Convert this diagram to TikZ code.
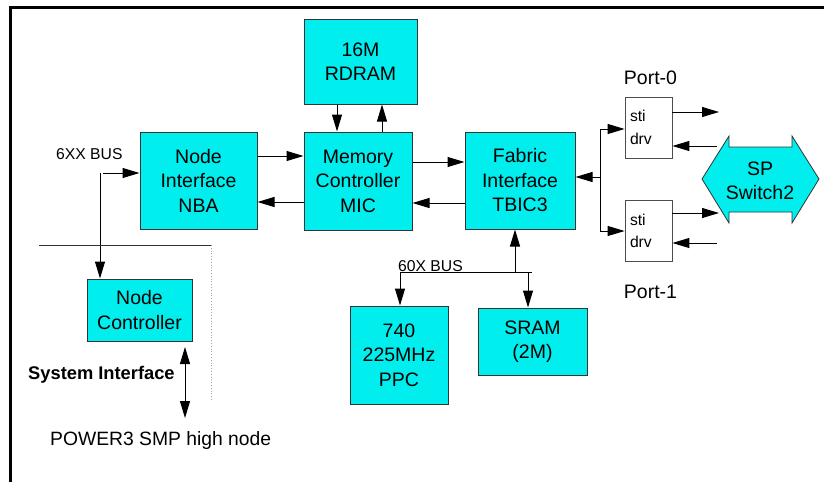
\documentclass[tikz,border=0pt]{standalone}
\usepackage{fontspec}
\setmainfont{Liberation Sans}
\usetikzlibrary{positioning, arrows.meta}
\definecolor{chipcyan}{RGB}{0,238,238}

\begin{document}
\begin{tikzpicture}[
    x=1pt, y=-1pt,
    font=\fontsize{19.5}{24.5}\selectfont,
    chip/.style={rectangle, draw=black!80, line width=1pt, fill=chipcyan, align=center, inner sep=2pt},
    drvbox/.style={rectangle, draw=black!70, line width=0.8pt, fill=white, align=left, text width=37pt, inner sep=5pt, minimum height=61pt, font=\fontsize{15.7}{22.5}\selectfont},
    small/.style={font=\fontsize{15.7}{18}\selectfont, inner sep=0pt},
    edge_style/.style={draw=black, line width=1pt, -{Triangle[length=17pt, width=10pt]}},
    both_style/.style={draw=black, line width=1pt, {Triangle[length=17pt, width=10pt]}-{Triangle[length=17pt, width=10pt]}}
]
\useasboundingbox (0,0) rectangle (824,482);

% Frame
\draw[line width=3pt] (10,482) -- (10,7) -- (824,7);

% Chips
\node[chip, minimum width=113pt, minimum height=85pt] (rdram) at (360.5,61.5) {16M\\RDRAM};
\node[chip, minimum width=117pt, minimum height=97pt] (nba) at (198.5,180.5) {Node\\Interface\\NBA};
\node[chip, minimum width=108pt, minimum height=98pt] (mic) at (358,181) {Memory\\Controller\\MIC};
\node[chip, minimum width=110pt, minimum height=97pt] (tbic) at (520,180.5) {Fabric\\Interface\\TBIC3};
\node[chip, minimum width=105pt, minimum height=62pt] (nodectl) at (139.5,310) {Node\\Controller};
\node[chip, minimum width=98pt, minimum height=98pt] (ppc) at (399,355) {740\\225MHz\\PPC};
\node[chip, minimum width=109pt, minimum height=67pt] (sram) at (532.5,341.5) {SRAM\\(2M)};

% Port drivers
\node[drvbox] (sti0) at (648.5,127.5) {sti\\drv};
\node[drvbox] (sti1) at (648.5,231) {sti\\drv};
\node[anchor=base, inner sep=0pt] (port0) at (650.5,84) {Port-0};
\node[anchor=base, inner sep=0pt] (port1) at (650.5,298) {Port-1};

% Switch
\draw[draw=black!80, line width=0.8pt, fill=chipcyan] (702,179) -- (729,136) -- (729,147) -- (792,147) -- (792,136) -- (819,179) -- (792,223) -- (792,212) -- (729,212) -- (729,223) -- cycle;
\node[align=center, inner sep=0pt] (switch) at (760,181) {SP\\Switch2};

% Labels
\node[small, anchor=base west] (bus6lbl) at (56,159) {6XX BUS};
\node[small, anchor=base west] (bus60lbl) at (398,271) {60X BUS};
\node[anchor=base west, inner sep=0pt, font=\fontsize{18.3}{22}\selectfont\bfseries] (syslbl) at (28,379) {System Interface};
\node[anchor=base west, inner sep=0pt, font=\fontsize{19.3}{22}\selectfont] (hinode) at (50,445) {POWER3 SMP high node};

% Bus points
\coordinate (bus6) at (100,173);
\coordinate (b60l) at (400,272);
\coordinate (b60t) at (515,272);
\coordinate (b60s) at (528,272);
\coordinate (b60r) at (532,272);
\coordinate (fork) at (600,177);
\coordinate (f0) at (600,129);
\coordinate (f1) at (600,231);
\coordinate (systop) at (185,347);
\coordinate (sysbot) at (185,418);
\coordinate (o0) at (719,112);
\coordinate (i0) at (717,146);
\coordinate (o1) at (719,213);
\coordinate (i1) at (717,243);

% Connections
\draw[edge_style] (nba.east |- 0,156) -- (mic.west |- 0,156);
\draw[edge_style] (mic.west |- 0,202) -- (nba.east |- 0,202);
\draw[edge_style] (mic.east |- 0,162) -- (tbic.west |- 0,162);
\draw[edge_style] (tbic.west |- 0,203) -- (mic.east |- 0,203);
\draw[edge_style] (rdram.south -| 337,0) -- (mic.north -| 337,0);
\draw[edge_style] (mic.north -| 382,0) -- (rdram.south -| 382,0);

\draw[edge_style] ([xshift=3pt]bus6) -- (bus6 -| nba.west);
\draw[line width=1pt] (bus6) -- (bus6 |- 0,245);
\draw[edge_style] (bus6 |- 0,245) -- (bus6 |- nodectl.north);
\draw[both_style] (systop) -- (sysbot);

\draw[line width=1pt] (b60l) -- (b60r);
\draw[edge_style] (b60l) -- (b60l |- ppc.north);
\draw[edge_style] (b60s) -- (b60s |- sram.north);
\draw[edge_style] (b60t) -- (b60t |- tbic.south);

\draw[edge_style] (fork) -- (fork -| tbic.east);
\draw[line width=1pt] (f0) -- (f1);
\draw[edge_style] (f0) -- (f0 -| sti0.west);
\draw[edge_style] (f1) -- (f1 -| sti1.west);
\draw[edge_style] (sti0.east |- o0) -- (o0);
\draw[edge_style] (i0) -- (sti0.east |- i0);
\draw[edge_style] (sti1.east |- o1) -- (o1);
\draw[edge_style] (i1) -- (sti1.east |- i1);

% System interface boundary
\draw[line width=1pt, black!80] (39,245) -- (211,245);
\draw[line width=0.8pt, black!35, dotted] (211,245) -- (211,400);

\end{tikzpicture}
\end{document}
